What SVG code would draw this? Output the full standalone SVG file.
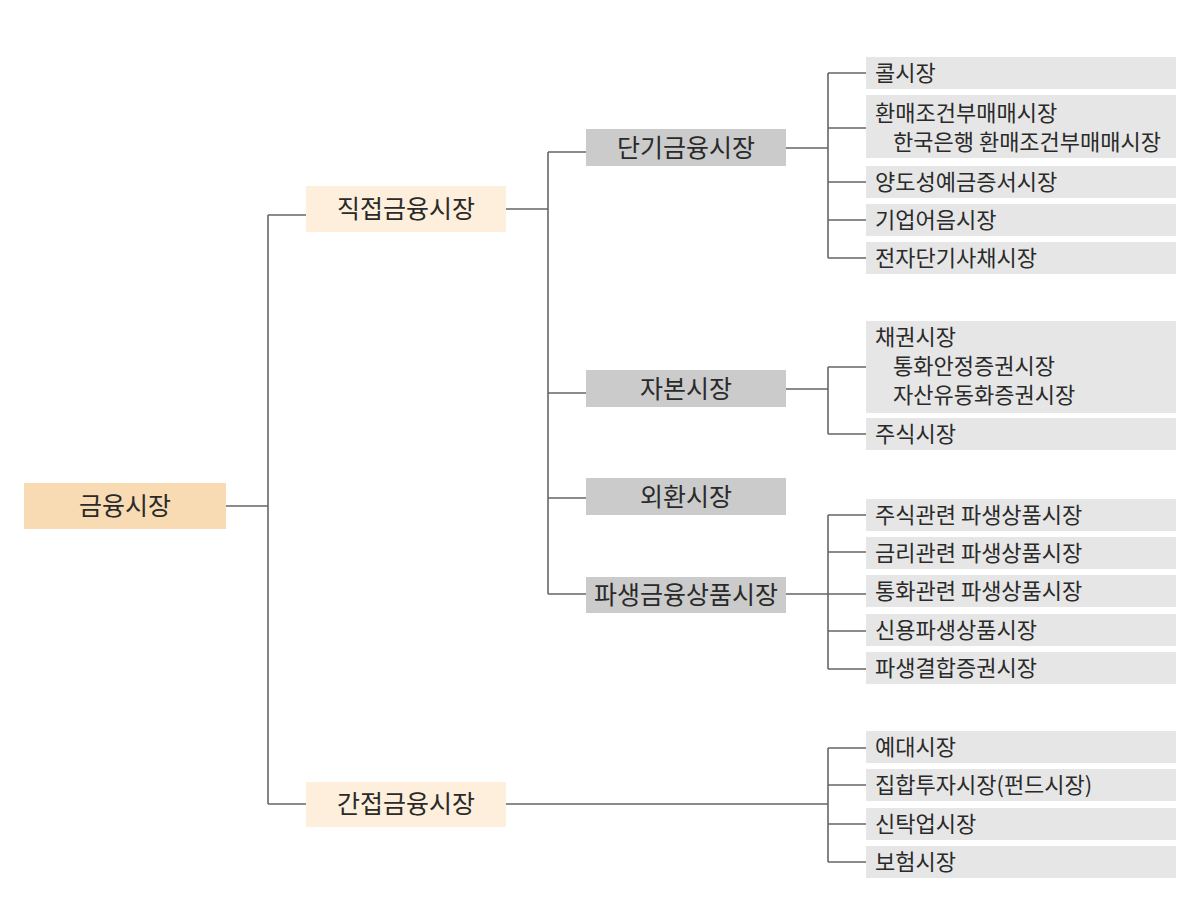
<svg xmlns="http://www.w3.org/2000/svg" width="1199" height="924" viewBox="0 0 1199 924">
<style>
text{font-family:"Noto Sans CJK KR","Noto Sans",sans-serif;fill:#2a2a2a}
.big{font-size:25px;text-anchor:middle}
.leaf{font-size:22px}
.root{fill:#f8dbb3}
.top{fill:#fdefdb}
.mid{fill:#cbcbcb}
.lf{fill:#e6e6e6}
#connectors path{fill:none;stroke:#666;stroke-width:1.6}
</style>
<rect width="1199" height="924" fill="#fff"/>
<g id="connectors">
<path d="M226,506H268M268,215V804M268,215H306M268,804H306"/>
<path d="M506,209H548M548,152V594M548,152H586M548,393H586M548,498H586M548,594H586"/>
<path d="M786,148H828M828,73V258M828,73H866M828,128H866M828,182H866M828,220H866M828,258H866"/>
<path d="M786,389H828M828,367V434M828,367H866M828,434H866"/>
<path d="M786,594H828M828,515V669M828,515H866M828,552H866M828,594H866M828,631H866M828,669H866"/>
<path d="M506,804H828M828,748V862M828,748H866M828,785H866M828,824H866M828,862H866"/>
</g>
<g id="n-root"><rect class="root" x="24" y="483" width="202" height="46"/><text class="big" x="125" y="515">금융시장</text></g>
<g id="n-direct"><rect class="top" x="306" y="186" width="200" height="46"/><text class="big" x="406" y="218">직접금융시장</text></g>
<g id="n-indirect"><rect class="top" x="306" y="782" width="200" height="45"/><text class="big" x="406" y="813">간접금융시장</text></g>
<g id="n-short"><rect class="mid" x="586" y="129" width="200" height="37"/><text class="big" x="686" y="157">단기금융시장</text></g>
<g id="n-capital"><rect class="mid" x="586" y="370" width="200" height="37"/><text class="big" x="686" y="398">자본시장</text></g>
<g id="n-fx"><rect class="mid" x="586" y="478" width="200" height="37"/><text class="big" x="686" y="506">외환시장</text></g>
<g id="n-deriv"><rect class="mid" x="586" y="577" width="200" height="36"/><text class="big" x="686" y="604">파생금융상품시장</text></g>
<g id="l-call"><rect class="lf" x="866" y="57" width="310" height="32"/><text class="leaf" x="875" y="81">콜시장</text></g>
<g id="l-repo"><rect class="lf" x="866" y="95" width="310" height="63"/><text class="leaf" x="875" y="121">환매조건부매매시장</text><text class="leaf" x="893" y="150">한국은행 환매조건부매매시장</text></g>
<g id="l-cd"><rect class="lf" x="866" y="166" width="310" height="32"/><text class="leaf" x="875" y="190">양도성예금증서시장</text></g>
<g id="l-cp"><rect class="lf" x="866" y="204" width="310" height="32"/><text class="leaf" x="875" y="228">기업어음시장</text></g>
<g id="l-esb"><rect class="lf" x="866" y="242" width="310" height="32"/><text class="leaf" x="875" y="266">전자단기사채시장</text></g>
<g id="l-bond"><rect class="lf" x="866" y="321" width="310" height="92"/><text class="leaf" x="875" y="345">채권시장</text><text class="leaf" x="893" y="374">통화안정증권시장</text><text class="leaf" x="893" y="403">자산유동화증권시장</text></g>
<g id="l-stock"><rect class="lf" x="866" y="418" width="310" height="32"/><text class="leaf" x="875" y="442">주식시장</text></g>
<g id="l-d1"><rect class="lf" x="866" y="499" width="310" height="32"/><text class="leaf" x="875" y="523">주식관련 파생상품시장</text></g>
<g id="l-d2"><rect class="lf" x="866" y="537" width="310" height="32"/><text class="leaf" x="875" y="561">금리관련 파생상품시장</text></g>
<g id="l-d3"><rect class="lf" x="866" y="575" width="310" height="32"/><text class="leaf" x="875" y="599">통화관련 파생상품시장</text></g>
<g id="l-d4"><rect class="lf" x="866" y="614" width="310" height="32"/><text class="leaf" x="875" y="638">신용파생상품시장</text></g>
<g id="l-d5"><rect class="lf" x="866" y="652" width="310" height="32"/><text class="leaf" x="875" y="676">파생결합증권시장</text></g>
<g id="l-i1"><rect class="lf" x="866" y="731" width="310" height="32"/><text class="leaf" x="875" y="755">예대시장</text></g>
<g id="l-i2"><rect class="lf" x="866" y="769" width="310" height="32"/><text class="leaf" x="875" y="793">집합투자시장(펀드시장)</text></g>
<g id="l-i3"><rect class="lf" x="866" y="808" width="310" height="32"/><text class="leaf" x="875" y="832">신탁업시장</text></g>
<g id="l-i4"><rect class="lf" x="866" y="846" width="310" height="32"/><text class="leaf" x="875" y="870">보험시장</text></g>
</svg>
